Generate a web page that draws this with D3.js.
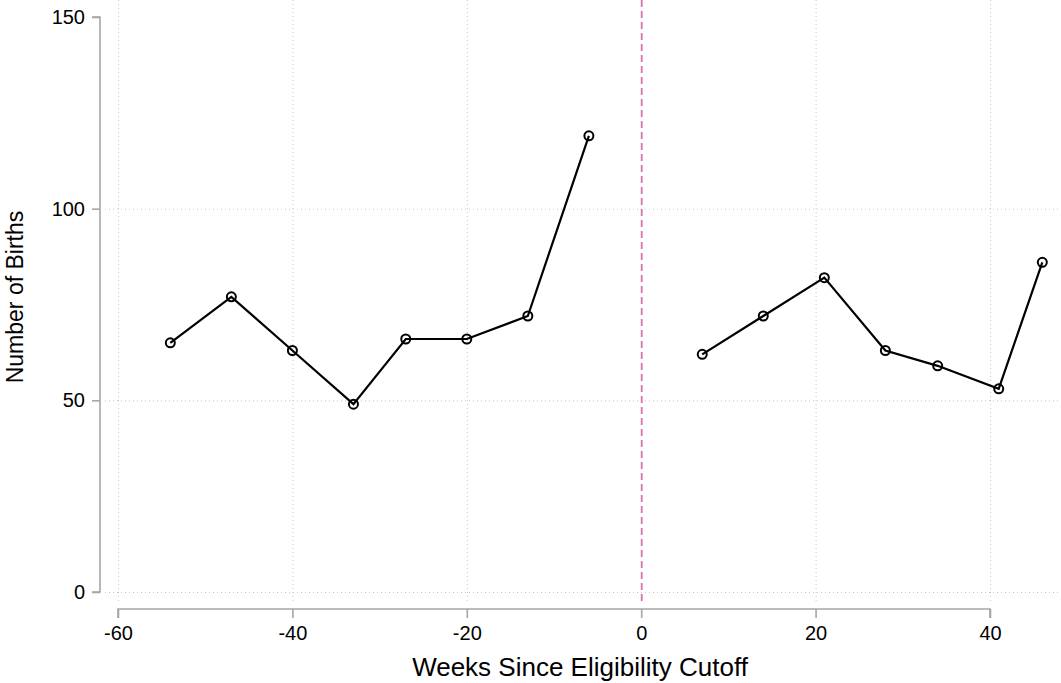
<!DOCTYPE html>
<html>
<head>
<meta charset="utf-8">
<script src="https://cdn.jsdelivr.net/npm/d3@7"></script>
<style>
  html, body { margin: 0; padding: 0; background: #fff; }
  svg { display: block; }
  svg text { font-family: "Liberation Sans", Arial, Helvetica, sans-serif; }
</style>
</head>
<body>
<svg id="chart" width="1061" height="683"></svg>
<script>
// Births by week relative to the eligibility cutoff (before and after)
const weeksBefore = [-54, -47, -40, -33, -27, -20, -13, -6];
const birthsBefore = [65, 77, 63, 49, 66, 66, 72, 119];
const weeksAfter = [7, 14, 21, 28, 34, 41, 46];
const birthsAfter = [62, 72, 82, 63, 59, 53, 86];
const xTicks = [-60, -40, -20, 0, 20, 40];
const yTicks = [0, 50, 100, 150];
const cutoff = 0;

const svg = d3.select("#chart");

const x = d3.scaleLinear().domain([-60, 40]).range([118, 990]);
const y = d3.scaleLinear().domain([0, 150]).range([592, 17]);

const plotTop = 0, plotBottom = 604, plotLeft = 105, plotRight = 1061;

// dotted grid
const grid = svg.append("g").attr("stroke", "#c8c8c8").attr("stroke-width", 1)
  .attr("stroke-dasharray", "1,3");
grid.selectAll("line.h").data(yTicks.filter(d => d < 150)).join("line")
  .attr("x1", plotLeft).attr("x2", plotRight)
  .attr("y1", d => y(d) + 0.5).attr("y2", d => y(d) + 0.5);
grid.selectAll("line.v").data(xTicks.filter(d => d !== cutoff)).join("line")
  .attr("x1", d => x(d) + 0.5).attr("x2", d => x(d) + 0.5)
  .attr("y1", plotTop).attr("y2", plotBottom);

// cutoff marker
svg.append("line")
  .attr("x1", x(cutoff) + 0.5).attr("x2", x(cutoff) + 0.5)
  .attr("y1", plotTop).attr("y2", plotBottom)
  .attr("stroke", "#d674ab").attr("stroke-width", 1.8)
  .attr("stroke-dasharray", "7,4");

// axes
const axisColor = "#a6a6a6";
const yAxis = svg.append("g").attr("transform", "translate(100,0)")
  .call(d3.axisLeft(y).tickValues(yTicks).tickSize(8).tickPadding(7).tickFormat(d3.format("d")));
const xAxis = svg.append("g").attr("transform", "translate(0,609)")
  .call(d3.axisBottom(x).tickValues(xTicks).tickSize(9).tickPadding(8).tickFormat(d => d < 0 ? "-" + Math.abs(d) : d));
[yAxis, xAxis].forEach(g => {
  g.attr("font-size", 20).attr("font-family", "Liberation Sans, Arial, sans-serif");
  g.select(".domain").attr("stroke", axisColor).attr("stroke-width", 1.6);
  g.selectAll(".tick line").attr("stroke", axisColor).attr("stroke-width", 1.6);
  g.selectAll(".tick text").attr("fill", "#000");
});
yAxis.select(".domain").attr("d", `M-8,${y(150)}H0V${y(0)}H-8`);
xAxis.select(".domain").attr("d", `M${x(-60)},9V0H${x(40)}V9`);

// series
const line = d3.line().x(d => x(d[0])).y(d => y(d[1]));
[[weeksBefore, birthsBefore], [weeksAfter, birthsAfter]].forEach(([wk, bt]) => {
  const pts = wk.map((w, i) => [w, bt[i]]);
  svg.append("path").datum(pts).attr("d", line)
    .attr("fill", "none").attr("stroke", "#000").attr("stroke-width", 2.2);
  svg.append("g").selectAll("circle").data(pts).join("circle")
    .attr("cx", d => x(d[0])).attr("cy", d => y(d[1])).attr("r", 4.5)
    .attr("fill", "none").attr("stroke", "#000").attr("stroke-width", 2);
});

// axis titles
svg.append("text").attr("x", 580).attr("y", 676).attr("text-anchor", "middle")
  .attr("font-size", 26).text("Weeks Since Eligibility Cutoff");
svg.append("text").attr("transform", `translate(23,297) rotate(-90)`)
  .attr("text-anchor", "middle").attr("font-size", 23).text("Number of Births");
</script>
</body>
</html>
